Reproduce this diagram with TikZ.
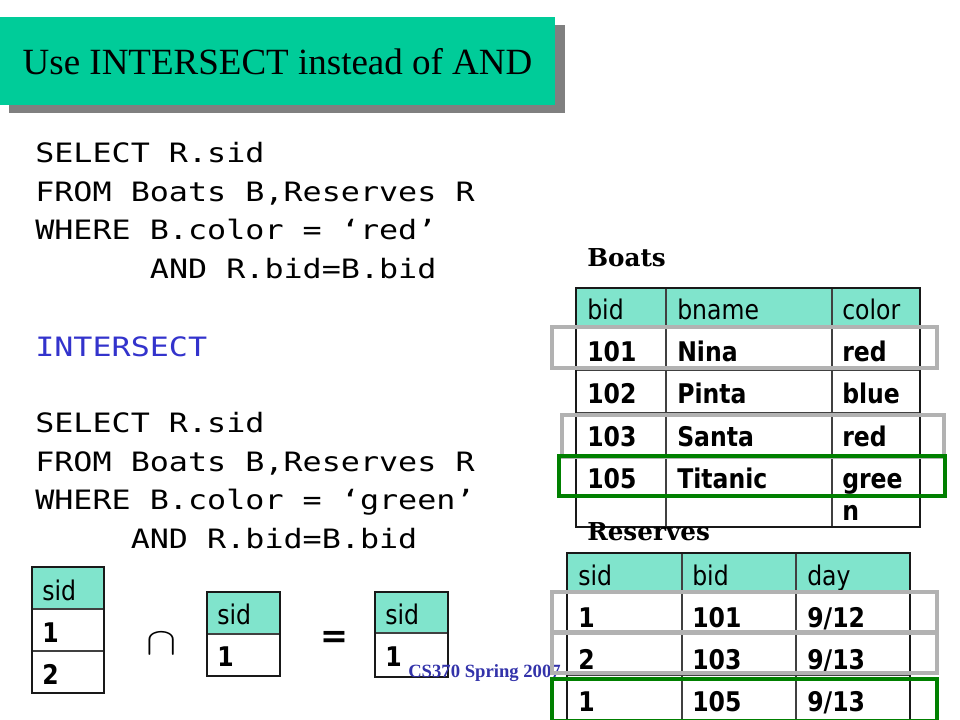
\documentclass[tikz,border=0pt]{standalone}
\usepackage{fontspec}
\setmainfont{Liberation Serif}
\newfontfamily\sqlfont[FakeStretch=1.19]{DejaVu Sans Mono}
\newfontfamily\tabfont[FakeStretch=0.87]{DejaVu Sans}
\newfontfamily\labfont{DejaVu Serif}
\newfontfamily\eqfont{DejaVu Sans}
\definecolor{titlegreen}{RGB}{0,204,153}
\definecolor{hdrfill}{RGB}{128,228,204}
\definecolor{shadowgray}{RGB}{128,128,128}
\definecolor{hlgray}{RGB}{178,178,178}
\definecolor{hlgreen}{RGB}{0,128,0}
\definecolor{sqlblue}{RGB}{51,51,204}
\definecolor{footblue}{RGB}{51,51,170}
\tikzset{
  sqlline/.style={anchor=base west, inner sep=0pt, font=\sqlfont\fontsize{20}{24}\selectfont},
  hcell/.style={anchor=base west, inner sep=0pt, font=\tabfont\fontsize{20.3}{24}\selectfont},
  bcell/.style={anchor=base west, inner sep=0pt, font=\tabfont\bfseries\fontsize{20.3}{24}\selectfont},
  tabouter/.style={draw=black!90, line width=2.2pt},
  tabinner/.style={draw=black!75, line width=1.1pt},
  hlbox/.style={draw=hlgray, line width=3pt},
  hlgbox/.style={draw=hlgreen, line width=3pt},
  tablabel/.style={anchor=base west, inner sep=0pt, font=\labfont\bfseries\fontsize{18.5}{22}\selectfont},
}
\begin{document}
\begin{tikzpicture}[x=0.75pt, y={(0pt,-0.75pt)}]
\useasboundingbox (0,0) rectangle (960,720);
\clip (0,0) rectangle (960,720);
\fill[white] (0,0) rectangle (960,720);

% title
\fill[shadowgray] (9,25) rectangle (565,113);
\fill[titlegreen] (0,17) rectangle (555,105);
\node[anchor=base, inner sep=0pt, font=\fontsize{27.75}{32}\selectfont] (title) at (277.5,75) {Use INTERSECT instead of AND};

% SQL
\node[sqlline] (q1) at (35,163) {SELECT R.sid};
\node[sqlline] (q2) at (35,202) {FROM Boats B,Reserves R};
\node[sqlline] (q3) at (35,240) {WHERE B.color = ‘red’};
\node[sqlline] (q4) at (35,279) {\ \ \ \ \ \ AND R.bid=B.bid};
\node[sqlline, text=sqlblue] (qi) at (35,356) {INTERSECT};
\node[sqlline] (q5) at (35,432) {SELECT R.sid};
\node[sqlline] (q6) at (35,471) {FROM Boats B,Reserves R};
\node[sqlline] (q7) at (35,509) {WHERE B.color = ‘green’};
\node[sqlline] (q8) at (35,548) {\ \ \ \ \ AND R.bid=B.bid};

% Boats table
\fill[hdrfill] (576,288) rectangle (920,328);
\draw[tabinner] (666,288) -- (666,527) (832,288) -- (832,527)
  (576,328) -- (920,328) (576,370) -- (920,370) (576,413) -- (920,413) (576,457) -- (920,457);
\draw[tabouter] (576,288) rectangle (920,527);
\node[hcell] (bh1) at (587,320) {bid};
\node[hcell] (bh2) at (677,320) {bname};
\node[hcell] (bh3) at (842,320) {color};
\node[bcell] (b11) at (587,361) {101};
\node[bcell] (b12) at (677,361) {Nina};
\node[bcell] (b13) at (842,361) {red};
\node[bcell] (b21) at (587,403) {102};
\node[bcell] (b22) at (677,403) {Pinta};
\node[bcell] (b23) at (842,403) {blue};
\node[bcell] (b31) at (587,446) {103};
\node[bcell] (b32) at (677,446) {Santa};
\node[bcell] (b33) at (842,446) {red};
\node[bcell] (b41) at (587,488) {105};
\node[bcell] (b42) at (677,488) {Titanic};
\node[bcell] (b43) at (842,488) {gree};
\node[bcell] (b43b) at (842,520) {n};

% small result tables
\fill[hdrfill] (32,567) rectangle (104,609);
\draw[tabinner] (32,609) -- (104,609) (32,651) -- (104,651);
\draw[tabouter] (32,567) rectangle (104,693);
\node[hcell] (t1h) at (42,600) {sid};
\node[bcell] (t11) at (42,642) {1};
\node[bcell] (t12) at (42,684) {2};

\node[inner sep=0pt, font=\fontsize{10}{10}\selectfont] (cap) at (162,644) {\scalebox{3.4}[2.9]{$\cap$}};

\fill[hdrfill] (207,592) rectangle (280,634);
\draw[tabinner] (207,634) -- (280,634);
\draw[tabouter] (207,592) rectangle (280,676);
\node[hcell] (t2h) at (217,624) {sid};
\node[bcell] (t21) at (217,666) {1};

\node[inner sep=0pt, font=\eqfont\bfseries\fontsize{25}{25}\selectfont] (eq) at (334,639) {=};

\fill[hdrfill] (375,592) rectangle (448,633);
\draw[tabinner] (375,633) -- (448,633);
\draw[tabouter] (375,592) rectangle (448,677);
\node[hcell] (t3h) at (385,624) {sid};
\node[bcell] (t31) at (385,666) {1};

% footer
\node[anchor=base west, inner sep=0pt, text=footblue, font=\bfseries\fontsize{14}{16}\selectfont] (foot) at (408,677) {CS370 Spring 2007};

% Reserves table
\fill[hdrfill] (567,553) rectangle (910,592);
\draw[tabinner] (682,553) -- (682,730) (796,553) -- (796,730)
  (567,592) -- (910,592) (567,633) -- (910,633) (567,675) -- (910,675);
\draw[tabouter] (567,553) rectangle (910,730);
\node[hcell] (rh1) at (578,585) {sid};
\node[hcell] (rh2) at (692,585) {bid};
\node[hcell] (rh3) at (807,585) {day};
\node[bcell] (r11) at (578,627) {1};
\node[bcell] (r12) at (692,627) {101};
\node[bcell] (r13) at (807,627) {9/12};
\node[bcell] (r21) at (578,669) {2};
\node[bcell] (r22) at (692,669) {103};
\node[bcell] (r23) at (807,669) {9/13};
\node[bcell] (r31) at (578,711) {1};
\node[bcell] (r32) at (692,711) {105};
\node[bcell] (r33) at (807,711) {9/13};

% highlights
\draw[hlbox] (552,327) rectangle (937,368);
\draw[hlbox] (562,415) rectangle (944,457);
\draw[hlgbox] (559,456) rectangle (945,496);
\draw[hlbox] (552,592) rectangle (937,632);
\draw[hlbox] (552,633) rectangle (937,673);
\draw[hlgbox] (552,679) rectangle (937,721);

% labels
\node[tablabel] (boatslabel) at (587,267) {Boats};
\node[tablabel] (reslabel) at (587,540) {Reserves};
\end{tikzpicture}
\end{document}
